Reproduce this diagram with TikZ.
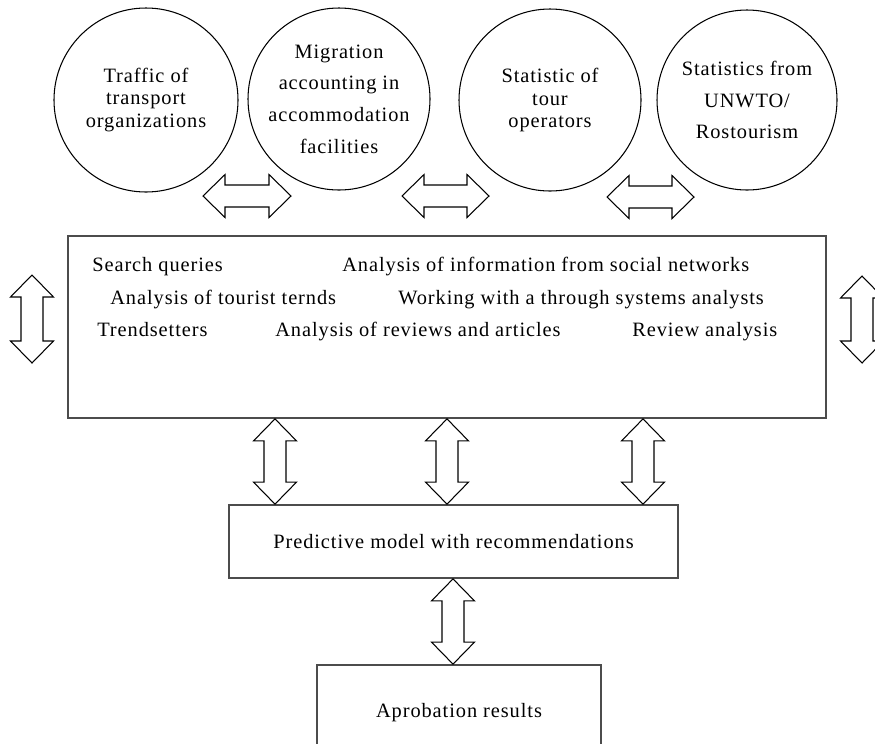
\documentclass[tikz,border=0pt]{standalone}
\usepackage{fontspec}
\setmainfont{Liberation Serif}[LetterSpace=4.5]
\usetikzlibrary{calc}

\tikzset{
  fuente/.style={circle, draw, line width=.6pt, inner sep=0pt, align=center},
  caja/.style={rectangle, draw=black!70, line width=1pt, inner sep=0pt},
  texto/.style={anchor=base west, inner sep=0pt},
  % Flecha doble vertical (de la punta superior a la inferior).
  flechav/.style={draw, line width=.6pt, to path={
      -- ++(.43,-.44) -- ++(-.21,0) -- ($(\tikztotarget)+(.22,.44)$)
      -- ++(.21,0) -- (\tikztotarget) -- ++(-.43,.44) -- ++(.21,0)
      -- ($(\tikztostart)+(-.22,-.44)$) -- ++(-.21,0) -- cycle}},
  % Flecha doble horizontal (de la punta izquierda a la derecha).
  flechah/.style={draw, line width=.6pt, to path={
      -- ++(.44,.43) -- ++(0,-.21) -- ($(\tikztotarget)+(-.44,.22)$)
      -- ++(0,.21) -- (\tikztotarget) -- ++(-.44,-.43) -- ++(0,.21)
      -- ($(\tikztostart)+(.44,-.22)$) -- ++(0,-.21) -- cycle}}
}

\begin{document}
\begin{tikzpicture}[every node/.style={font=\fontsize{11.6pt}{13pt}\selectfont}]
    \useasboundingbox (0,0) rectangle (17.5,-14.86);

    % Fuentes de datos.
    \node[fuente, minimum size=3.68cm] (trafico) at (2.92,-2.0)
        {Traffic of\\transport\\organizations};
    \node[fuente, minimum size=3.64cm, text depth=-5.5pt,
          font=\fontsize{11.6pt}{18.1pt}\selectfont] (migracion) at (6.78,-1.98)
        {Migration\\accounting in\\accommodation\\facilities};
    \node[fuente, minimum size=3.64cm] (operadores) at (11.0,-2.0)
        {Statistic of\\tour\\operators};
    \node[fuente, minimum size=3.6cm, text depth=-3.4pt,
          font=\fontsize{11.6pt}{18.1pt}\selectfont] (unwto) at (14.94,-2.0)
        {Statistics from\\UNWTO/\\Rostourism};

    % Flechas entre las fuentes.
    \path (4.06,-3.92) coordinate (h1a) (5.82,-3.92) coordinate (h1b)
          (8.04,-3.92) coordinate (h2a) (9.78,-3.92) coordinate (h2b)
          (12.14,-3.94) coordinate (h3a) (13.88,-3.94) coordinate (h3b);
    \draw[flechah] (h1a) to (h1b);
    \draw[flechah] (h2a) to (h2b);
    \draw[flechah] (h3a) to (h3b);

    % Bloque de analisis.
    \node[caja, minimum width=15.16cm, minimum height=3.64cm] (fuentes) at (8.94,-6.54) {};
    \node[texto] (busqueda) at (1.84,-5.43) {Search queries};
    \node[texto] (redes) at (6.84,-5.43) {Analysis of information from social networks};
    \node[texto] (tendencias) at (2.2,-6.08) {Analysis of tourist ternds};
    \node[texto] (analistas) at (7.96,-6.08) {Working with a through systems analysts};
    \node[texto] (trendsetters) at (1.94,-6.72) {Trendsetters};
    \node[texto] (resenas) at (5.5,-6.72) {Analysis of reviews and articles};
    \node[texto] (revision) at (12.64,-6.72) {Review analysis};

    % Flechas laterales.
    \path (.64,-5.5) coordinate (izqa) (.64,-7.26) coordinate (izqb)
          (17.24,-5.52) coordinate (dera) (17.24,-7.26) coordinate (derb);
    \draw[flechav] (izqa) to (izqb);
    \draw[flechav] (dera) to (derb);

    % Modelo predictivo y aprobacion.
    \node[caja, minimum width=8.98cm, minimum height=1.46cm] (modelo) at (9.07,-10.83)
        {Predictive model with recommendations};
    \node[caja, minimum width=5.68cm, minimum height=1.9cm] (aprobacion) at (9.18,-14.25)
        {Aprobation results};

    \draw[flechav] (5.5,0 |- fuentes.south) to (5.5,0 |- modelo.north);
    \draw[flechav] (8.94,0 |- fuentes.south) to (8.94,0 |- modelo.north);
    \draw[flechav] (12.86,0 |- fuentes.south) to (12.86,0 |- modelo.north);
    \draw[flechav] (9.06,0 |- modelo.south) to (9.06,0 |- aprobacion.north);
\end{tikzpicture}
\end{document}
